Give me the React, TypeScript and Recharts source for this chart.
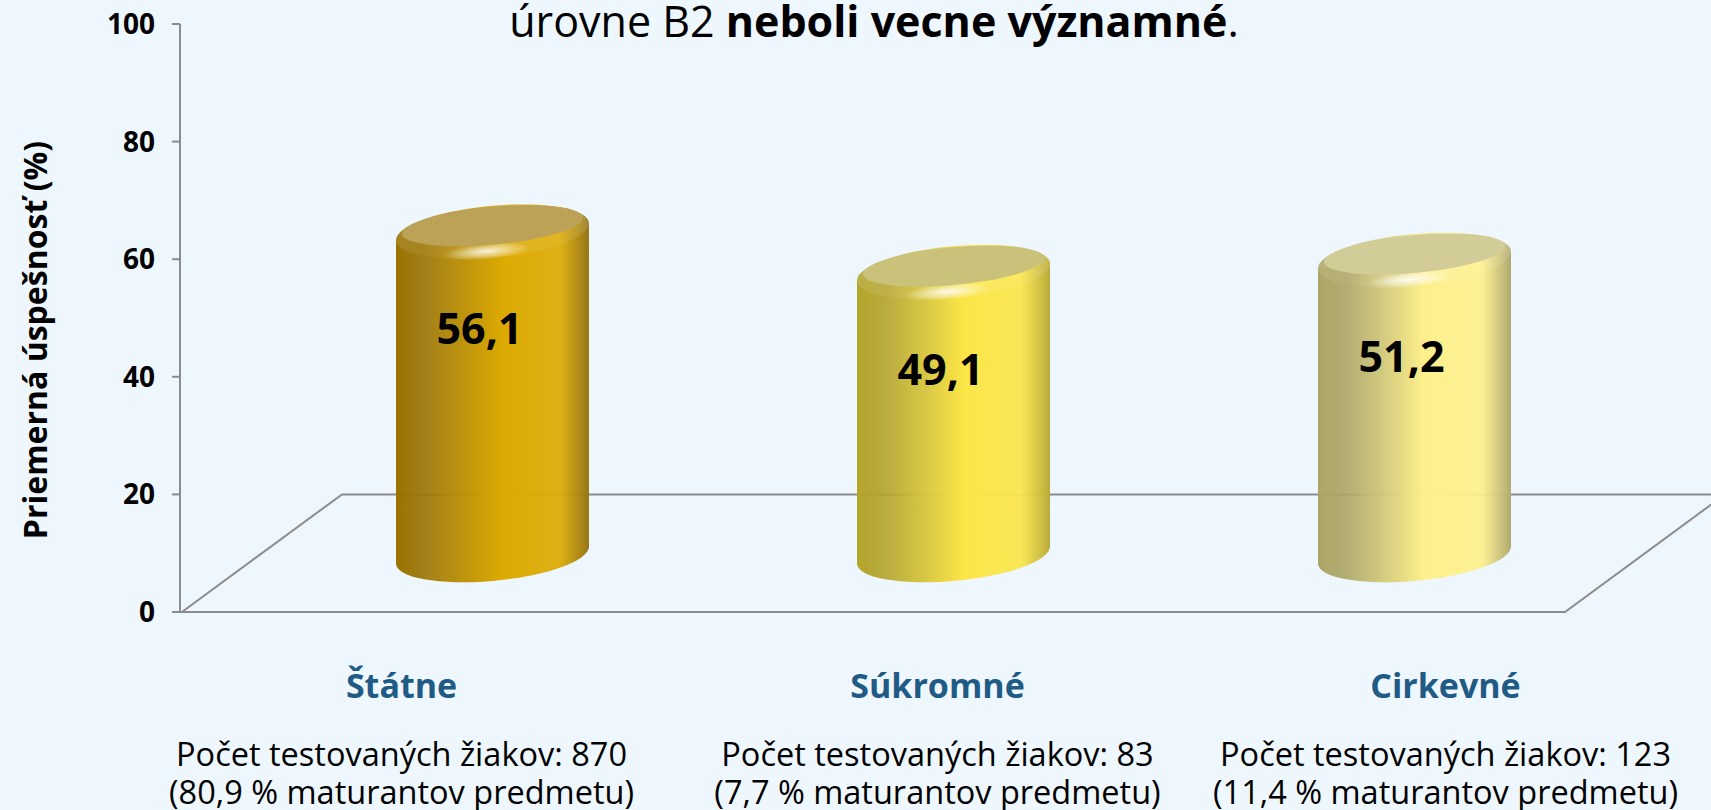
import { Bar, BarChart, Label, LabelList, ReferenceArea, XAxis, YAxis } from 'recharts';

const CATEGORIES = ['Štátne', 'Súkromné', 'Cirkevné'];
const SCORES = [56.1, 49.1, 51.2];
const STUDENT_COUNTS = [870, 83, 123];
const STUDENT_SHARES = ['80,9', '7,7', '11,4'];
const Y_TICKS = [0, 20, 40, 60, 80, 100];

const FONT = "'Open Sans', 'Noto Sans', sans-serif";
const BG = '#eff7fe';
const AXIS_GREY = '#8c8c8c';

// cylinders stand at mid-depth of the floor (floor back edge sits at the "20" level)
const HALF_DEPTH = 57;
const DEPTH_DX = 80;
const PERSPECTIVE = 0.98;
// the text boxes under the chart are not centred on the cylinders
const LABEL_DX = [-91, -16, 31];

const CYLINDER_COLORS = [
  { left: '#9a7300', mid: '#dcaa02', right: '#957719', top: '#bba257' },
  { left: '#b3a42b', mid: '#fbe548', right: '#b9ab3a', top: '#cac27a' },
  { left: '#aca565', mid: '#fdf08c', right: '#b0a96f', top: '#d2cc98' },
];

const data = CATEGORIES.map((name, i) => ({
  name,
  value: SCORES[i],
  count: STUDENT_COUNTS[i],
  share: STUDENT_SHARES[i],
}));

function Cylinder(props: any) {
  const { x, y, width, height, index } = props;
  const c = CYLINDER_COLORS[index];
  const rx = width / 2;
  const ry = 26;
  const bottom = y + height - HALF_DEPTH;
  const h = height * PERSPECTIVE;
  return (
    <g transform={`translate(${x + rx},${bottom - h}) skewY(-5)`}>
      <path
        d={`M${-rx},0 L${-rx},${h} A${rx},${ry} 0 0 0 ${rx},${h} L${rx},0 Z`}
        fill={`url(#cyl-body-${index})`}
      />
      <ellipse cx={0} cy={0} rx={rx} ry={ry} fill={`url(#cyl-body-${index})`} />
      <ellipse cx={0} cy={0} rx={rx} ry={ry} fill="#ffffff" opacity={0.12} />
      <ellipse cx={-6} cy={ry - 7} rx={rx * 0.45} ry={8} fill="url(#cyl-glint)" />
      <ellipse cx={0} cy={-6} rx={rx - 6} ry={ry - 7} fill={c.top} />
    </g>
  );
}

function Floor(props: any) {
  const { x, y, width, height } = props;
  const front = y + height;
  const pts = [
    [x - DEPTH_DX, front],
    [x + width - DEPTH_DX, front],
    [x + width + DEPTH_DX, y],
    [x + DEPTH_DX, y],
  ];
  return (
    <polygon
      points={pts.map((p) => p.join(',')).join(' ')}
      fill="none"
      stroke={AXIS_GREY}
      strokeWidth={2}
    />
  );
}

function ValueLabel(props: any) {
  const { x, y, width, value } = props;
  return (
    <text
      x={x + width / 2 - 13}
      y={y + 45}
      textAnchor="middle"
      dominantBaseline="central"
      fontFamily={FONT}
      fontWeight={700}
      fontSize={43}
      fill="#000"
    >
      {String(value).replace('.', ',')}
    </text>
  );
}

function CategoryTick(props: any) {
  const { x, y, index } = props;
  const d = data[index];
  const cx = x + LABEL_DX[index];
  return (
    <g fontFamily={FONT} textAnchor="middle">
      <text x={cx} y={y + 73} dominantBaseline="central" fontWeight={700} fontSize={34} fill="#1f5b85">
        {d.name}
      </text>
      <text x={cx} y={y + 141} dominantBaseline="central" fontSize={32.5} fill="#000">
        {`Počet testovaných žiakov: ${d.count}`}
      </text>
      <text x={cx} y={y + 179} dominantBaseline="central" fontSize={32.5} fill="#000">
        {`(${d.share} % maturantov predmetu)`}
      </text>
    </g>
  );
}

function AxisTitle(props: any) {
  const { viewBox } = props;
  const cx = viewBox.x + 34;
  const cy = viewBox.y + viewBox.height / 2 + 22;
  return (
    <text
      x={cx}
      y={cy}
      transform={`rotate(-90 ${cx} ${cy})`}
      textAnchor="middle"
      dominantBaseline="central"
      fontFamily={FONT}
      fontWeight={700}
      fontSize={32}
      fill="#000"
    >
      Priemerná úspešnosť (%)
    </text>
  );
}

export default function App() {
  return (
    <div style={{ position: 'absolute', top: 0, left: 0, width: 1711, height: 810, background: BG, overflow: 'hidden' }}>
      <svg width={1711} height={60} style={{ position: 'absolute', top: 0, left: 0 }}>
        <text x={874} y={37} textAnchor="middle" fontFamily={FONT} fontSize={43} fill="#000">
          <tspan>úrovne B2 </tspan>
          <tspan fontWeight={700}>neboli vecne významné</tspan>
          <tspan>.</tspan>
        </text>
      </svg>
      <BarChart
        width={1711}
        height={810}
        data={data}
        margin={{ top: 24, right: 0, bottom: 0, left: 0 }}
        style={{ position: 'absolute', top: 0, left: 0 }}
      >
        <defs>
          {CYLINDER_COLORS.map((c, i) => (
            <linearGradient key={i} id={`cyl-body-${i}`} x1="0" y1="0" x2="1" y2="0">
              <stop offset="0" stopColor={c.left} />
              <stop offset="0.15" stopColor={c.left} stopOpacity={0.9} />
              <stop offset="0.55" stopColor={c.mid} />
              <stop offset="0.85" stopColor={c.mid} stopOpacity={0.92} />
              <stop offset="1" stopColor={c.right} />
            </linearGradient>
          ))}
          <radialGradient id="cyl-glint" cx="0.5" cy="0.5" r="0.5">
            <stop offset="0" stopColor="#ffffff" stopOpacity={0.85} />
            <stop offset="1" stopColor="#ffffff" stopOpacity={0} />
          </radialGradient>
        </defs>
        <XAxis
          dataKey="name"
          height={198}
          axisLine={false}
          tickLine={false}
          tickSize={0}
          tickMargin={0}
          padding={{ left: 82, right: 66 }}
          interval={0}
          tick={<CategoryTick />}
        />
        <YAxis
          width={180}
          domain={[0, 100]}
          ticks={Y_TICKS}
          interval={0}
          axisLine={{ stroke: AXIS_GREY, strokeWidth: 2 }}
          tickLine={{ stroke: AXIS_GREY, strokeWidth: 2 }}
          tickSize={8}
          tickMargin={17}
          tick={{ fontFamily: FONT, fontWeight: 700, fontSize: 28, fill: '#000' }}
        >
          <Label content={<AxisTitle />} />
        </YAxis>
        <ReferenceArea y1={0} y2={20} shape={<Floor />} ifOverflow="visible" />
        <Bar dataKey="value" barSize={193} shape={<Cylinder />} isAnimationActive={false}>
          <LabelList dataKey="value" content={<ValueLabel />} />
        </Bar>
      </BarChart>
    </div>
  );
}
